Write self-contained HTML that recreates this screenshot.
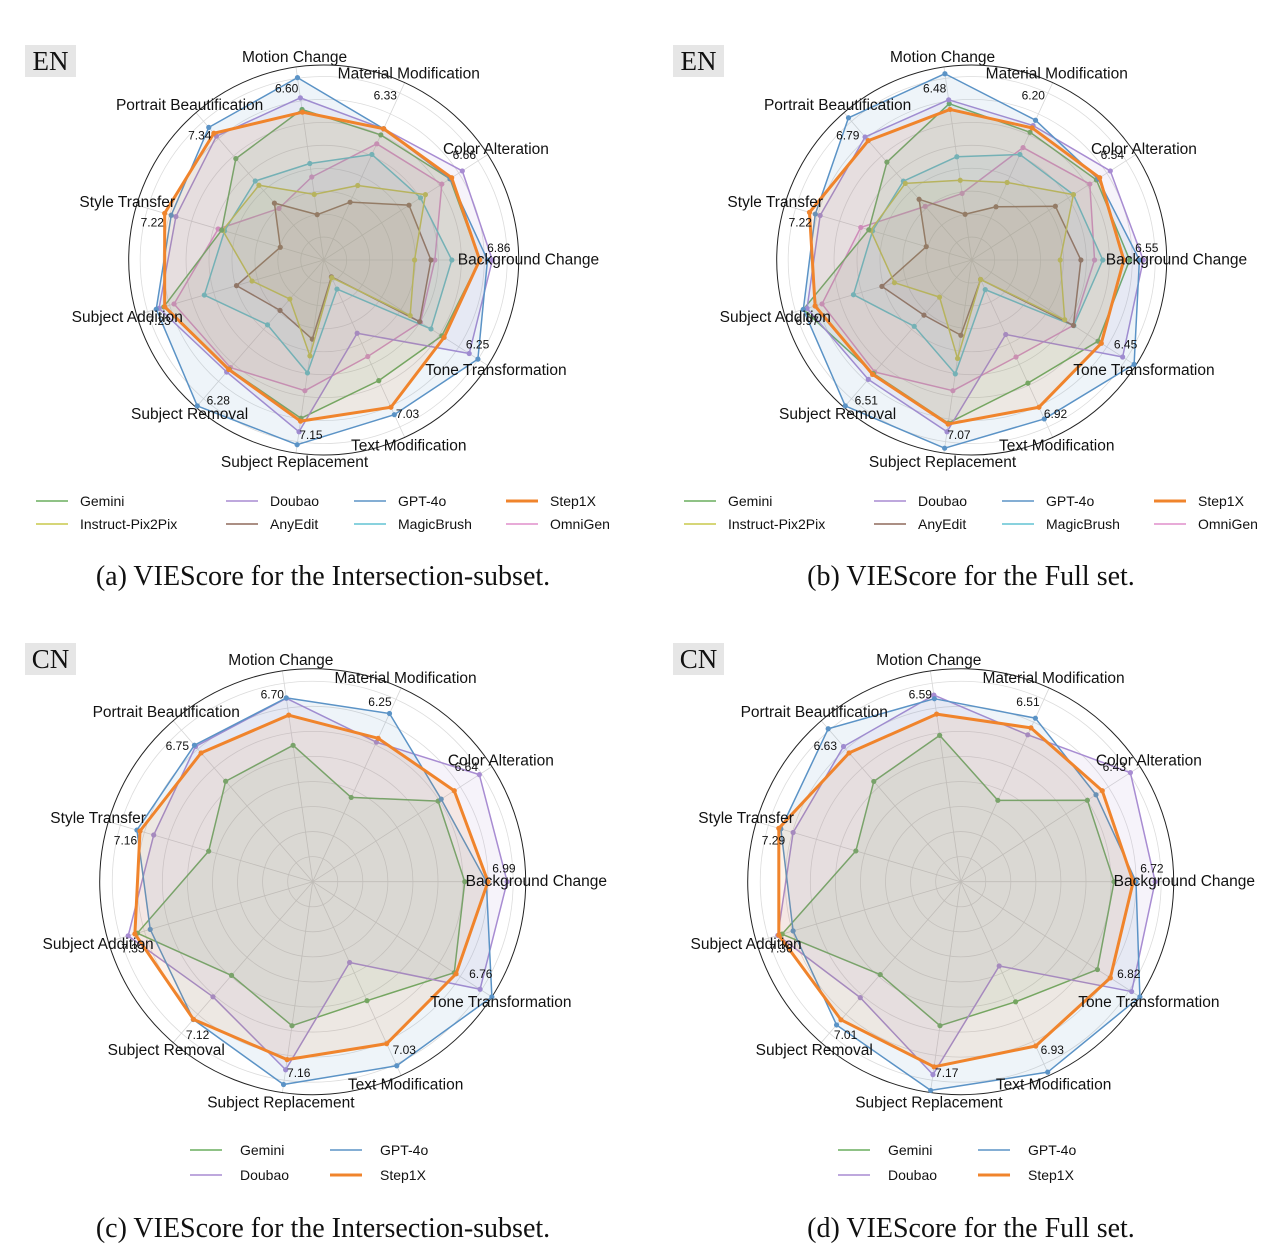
<!DOCTYPE html>
<html><head><meta charset="utf-8">
<style>
html,body{margin:0;padding:0;background:#fff;}
body{width:1282px;height:1260px;position:relative;overflow:hidden;font-family:"Liberation Sans",sans-serif;}
.badge{position:absolute;width:51px;height:32px;background:#e6e6e6;font-family:"Liberation Serif",serif;font-size:27px;line-height:32px;text-align:center;color:#111;}
.cap{position:absolute;width:640px;text-align:center;font-family:"Liberation Serif",serif;font-size:28px;line-height:32px;color:#111;}
svg{position:absolute;left:0;top:0;}
</style></head><body>
<div class="badge" style="left:25px;top:45px;">EN</div>
<div class="badge" style="left:673px;top:45px;">EN</div>
<div class="badge" style="left:25px;top:643px;">CN</div>
<div class="badge" style="left:673px;top:643px;">CN</div>
<div class="cap" style="left:3px;top:561px;">(a) VIEScore for the Intersection-subset.</div>
<div class="cap" style="left:651px;top:561px;">(b) VIEScore for the Full set.</div>
<div class="cap" style="left:3px;top:1213px;">(c) VIEScore for the Intersection-subset.</div>
<div class="cap" style="left:651px;top:1213px;">(d) VIEScore for the Full set.</div>
<svg id="chart" width="1282" height="1260"></svg>
<script>
// categories (clockwise from Motion Change)
const categories = ["Motion Change","Material Modification","Color Alteration","Background Change","Tone Transformation","Text Modification","Subject Replacement","Subject Removal","Subject Addition","Style Transfer","Portrait Beautification"];
// per-axis max score labels
const maxA = ["6.60","6.33","6.66","6.86","6.25","7.03","7.15","6.28","7.23","7.22","7.34"];
const maxB = ["6.48","6.20","6.54","6.55","6.45","6.92","7.07","6.51","6.97","7.22","6.79"];
const maxC = ["6.70","6.25","6.64","6.99","6.76","7.03","7.16","7.12","7.33","7.16","6.75"];
const maxD = ["6.59","6.51","6.43","6.72","6.82","6.93","7.17","7.01","7.36","7.29","6.63"];
// normalized scores (fraction of axis scale)
const aGemini   = [0.78,0.705,0.77,0.80,0.72,0.68,0.82,0.74,0.855,0.545,0.688];
const aDoubao   = [0.84,0.74,0.845,0.865,0.887,0.413,0.89,0.76,0.88,0.79,0.84];
const aGPT      = [0.945,0.74,0.77,0.84,0.94,0.872,0.957,0.99,0.895,0.815,0.90];
const aStep1X   = [0.766,0.74,0.78,0.80,0.734,0.83,0.835,0.743,0.85,0.85,0.86];
const aIP2P     = [0.34,0.42,0.62,0.466,0.527,0.10,0.497,0.265,0.383,0.54,0.507];
const aAnyEdit  = [0.235,0.326,0.52,0.55,0.585,0.095,0.41,0.342,0.466,0.232,0.386];
const aMagic    = [0.50,0.595,0.59,0.657,0.654,0.164,0.585,0.44,0.638,0.53,0.536];
const aOmni     = [0.43,0.655,0.72,0.57,0.59,0.544,0.677,0.73,0.80,0.564,0.35];
const bGemini   = [0.81,0.72,0.76,0.81,0.77,0.694,0.845,0.77,0.90,0.55,0.664];
const bDoubao   = [0.83,0.758,0.845,0.88,0.92,0.42,0.89,0.81,0.88,0.81,0.835];
const bGPT      = [0.965,0.788,0.77,0.86,0.99,0.896,0.975,0.99,0.90,0.836,0.965];
const bStep1X   = [0.78,0.745,0.78,0.78,0.79,0.83,0.85,0.776,0.837,0.867,0.81];
const bIP2P     = [0.413,0.437,0.62,0.454,0.567,0.11,0.51,0.252,0.413,0.54,0.52];
const bAnyEdit  = [0.237,0.30,0.51,0.56,0.62,0.11,0.39,0.374,0.48,0.243,0.412];
const bMagic    = [0.535,0.595,0.62,0.672,0.623,0.167,0.59,0.45,0.632,0.53,0.535];
const bOmni     = [0.345,0.634,0.72,0.63,0.62,0.547,0.677,0.76,0.80,0.593,0.364];
const cGemini   = [0.647,0.435,0.70,0.714,0.79,0.614,0.683,0.582,0.858,0.509,0.624];
const cDoubao   = [0.87,0.72,0.93,0.913,0.934,0.417,0.892,0.715,0.903,0.778,0.84];
const cGPT      = [0.872,0.868,0.717,0.815,1.0,0.95,0.962,0.856,0.795,0.86,0.848];
const cStep1X   = [0.79,0.74,0.79,0.823,0.80,0.836,0.844,0.855,0.87,0.845,0.80];
const dGemini   = [0.694,0.42,0.707,0.72,0.763,0.62,0.683,0.577,0.874,0.513,0.623];
const dDoubao   = [0.885,0.758,0.947,0.913,0.954,0.435,0.915,0.72,0.895,0.82,0.84];
const dGPT      = [0.868,0.844,0.755,0.823,1.0,0.983,0.99,0.89,0.82,0.88,0.95];
const dStep1X   = [0.795,0.794,0.79,0.81,0.835,0.848,0.878,0.858,0.89,0.89,0.80];

const NS = "http://www.w3.org/2000/svg";
const svg = document.getElementById('chart');
const COL = {Gemini:"#6aae5e",Doubao:"#a88cd2",GPT:"#5b93c6",Step1X:"#f0842c",IP2P:"#c9c84c",AnyEdit:"#8f6a5c",Magic:"#62c3d3",Omni:"#e08fcc"};
function mk(tag, attrs, parent){const e=document.createElementNS(NS,tag);for(const k in attrs)e.setAttribute(k,attrs[k]);(parent||svg).appendChild(e);return e;}
function ang(k){return (3-k)*2*Math.PI/11;}
function pt(cx,cy,r,k){const a=ang(k);return [cx+r*Math.cos(a), cy-r*Math.sin(a)];}

function radar(id,cx,cy,R,maxLabels,series){
  const g=mk('g',{});
  
  
  for(let i=1;i<=8;i++){
    const c=mk('circle',{cx:cx,cy:cy,r:R*i/8.5,fill:'none',stroke:'#dcdcdc','stroke-width':0.8},g);
    
    
  }
  for(let k=0;k<11;k++){
    const p=pt(cx,cy,R,k);
    const l=mk('line',{x1:cx,y1:cy,x2:p[0],y2:p[1],stroke:'#d6d6d6','stroke-width':0.8},g);
    
    
  }
  const oc=mk('circle',{cx:cx,cy:cy,r:R,fill:'none',stroke:'#222','stroke-width':1},g);
  
  
  series.forEach(s=>{
    const pts=s.vals.map((v,k)=>pt(cx,cy,v*R,k));
    const poly=mk('polygon',{points:pts.map(p=>p.join(',')).join(' '),fill:COL[s.key],'fill-opacity':0.1,stroke:COL[s.key],'stroke-width':s.key==='Step1X'?3:1.5,'stroke-linejoin':'round'},g);
    
    
    pts.forEach(p=>{
      const d=mk('circle',{cx:p[0],cy:p[1],r:2.6,fill:COL[s.key]},g);
      
      
    });
  });
  categories.forEach((c,k)=>{
    const p=pt(cx,cy,R*1.05,k);
    const t=mk('text',{x:p[0],y:p[1],'text-anchor':'middle','dominant-baseline':'central','font-size':15.5,fill:'#111'},g);
    t.textContent=c;
    
    
  });
  maxLabels.forEach((m,k)=>{
    const a=ang(k)+4*Math.PI/180, r=R*0.9;
    const t=mk('text',{x:cx+r*Math.cos(a),y:cy-r*Math.sin(a),'text-anchor':'middle','dominant-baseline':'central','font-size':12,fill:'#111'},g);
    t.textContent=m;
    
    
  });
}
function legend(items,x0s,ys,textOff){
  items.forEach((it,i)=>{
    const x=x0s[i%x0s.length], y=ys[Math.floor(i/x0s.length)];
    const l=mk('line',{x1:x,y1:y,x2:x+32,y2:y,stroke:COL[it[0]],'stroke-width':it[0]==='Step1X'?3:1.5});
    
    
    const t=mk('text',{x:x+textOff,y:y,'dominant-baseline':'central','font-size':14,fill:'#111'});
    t.textContent=it[1];
    
    
  });
}
const S8=(G,D,P,S,I,A,M,O)=>[{key:'Omni',vals:O},{key:'Magic',vals:M},{key:'AnyEdit',vals:A},{key:'IP2P',vals:I},{key:'Gemini',vals:G},{key:'Doubao',vals:D},{key:'GPT',vals:P},{key:'Step1X',vals:S}];
const S4=(G,D,P,S)=>[{key:'Gemini',vals:G},{key:'Doubao',vals:D},{key:'GPT',vals:P},{key:'Step1X',vals:S}];
radar('a',323.7,260,195,maxA,S8(aGemini,aDoubao,aGPT,aStep1X,aIP2P,aAnyEdit,aMagic,aOmni));
radar('b',971.7,260,195,maxB,S8(bGemini,bDoubao,bGPT,bStep1X,bIP2P,bAnyEdit,bMagic,bOmni));
radar('c',312.7,881.7,213,maxC,S4(cGemini,cDoubao,cGPT,cStep1X));
radar('d',960.7,881.7,213,maxD,S4(dGemini,dDoubao,dGPT,dStep1X));
const L8=[['Gemini','Gemini'],['Doubao','Doubao'],['GPT','GPT-4o'],['Step1X','Step1X'],['IP2P','Instruct-Pix2Pix'],['AnyEdit','AnyEdit'],['Magic','MagicBrush'],['Omni','OmniGen']];
legend(L8,[36,226,354,506],[501,524],44);
legend(L8,[684,874,1002,1154],[501,524],44);
const L4=[['Gemini','Gemini'],['GPT','GPT-4o'],['Doubao','Doubao'],['Step1X','Step1X']];
legend(L4,[190,330],[1150,1175],50);
legend(L4,[838,978],[1150,1175],50);
</script>
</body></html>
